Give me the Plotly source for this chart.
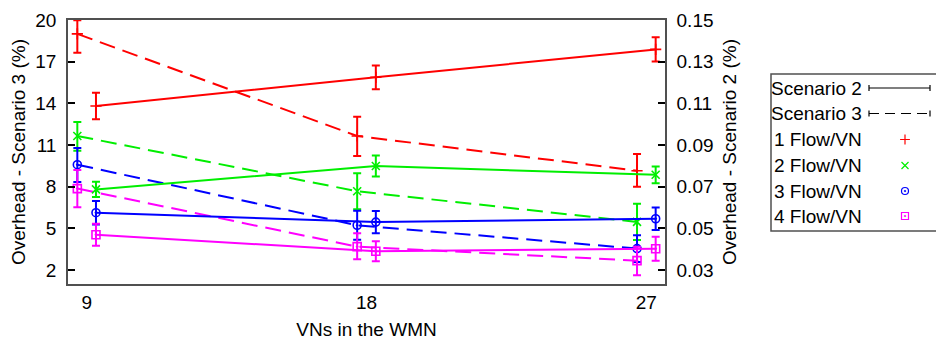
import plotly.graph_objects as go

# ---------------- data ----------------
vns = [9, 18, 27]
flow_labels = ["1 Flow/VN", "2 Flow/VN", "3 Flow/VN", "4 Flow/VN"]

# Scenario 3 (left axis, dashed)
s3_vals = [
    [19.0, 11.65, 9.15],
    [11.65, 7.67, 5.46],
    [9.58, 5.22, 3.54],
    [7.86, 3.68, 2.67],
]
s3_plus = [
    [0.98, 1.39, 1.20],
    [1.01, 1.30, 1.30],
    [1.20, 1.05, 0.96],
    [1.34, 0.96, 1.00],
]
s3_minus = [
    [1.35, 1.44, 1.15],
    [1.06, 1.30, 1.30],
    [1.24, 1.05, 0.96],
    [1.35, 0.91, 1.05],
]

# Scenario 2 (right axis, solid)
s2_vals = [
    [0.1087, 0.1225, 0.1359],
    [0.0687, 0.0799, 0.0757],
    [0.0575, 0.0530, 0.0546],
    [0.0469, 0.0390, 0.0402],
]
s2_err = [
    [0.0064, 0.0057, 0.0058],
    [0.0037, 0.0050, 0.0040],
    [0.0056, 0.0053, 0.0054],
    [0.0053, 0.0048, 0.0058],
]

left_ticks = [2, 5, 8, 11, 14, 17, 20]
right_ticks = [0.03, 0.05, 0.07, 0.09, 0.11, 0.13, 0.15]

# ---------------- style ----------------
colors = ["#ff0000", "#00ee00", "#0000ff", "#ff00ff"]
symbols = ["cross-thin-open", "x-thin-open", "circle-open-dot", "square-open-dot"]
FONT = "Liberation Sans, Arial, Helvetica, sans-serif"
FS = 19
BORDER = "#505050"

W, H = 936, 340
ML, MT, MB = 68, 20, 56
PW = W - ML
PH = H - MT - MB
PLOT_RIGHT = 665


def px(x):
    return (x - ML) / PW


def py(y):
    return (H - MB - y) / PH


OFF = 0.3

fig = go.Figure()

for i in range(4):
    c = colors[i]
    # Scenario 3 - dashed, left axis
    fig.add_trace(go.Scatter(
        x=[v - OFF for v in vns], y=s3_vals[i], mode="lines+markers",
        line=dict(color=c, width=2, dash="16px,8px"),
        marker=dict(symbol=symbols[i], size=8, color=c, line=dict(color=c, width=1.6)),
        error_y=dict(type="data", array=s3_plus[i], arrayminus=s3_minus[i],
                     color=c, thickness=2, width=4),
        yaxis="y", showlegend=False,
    ))
    # Scenario 2 - solid, right axis
    fig.add_trace(go.Scatter(
        x=[v + OFF for v in vns], y=s2_vals[i], mode="lines+markers",
        line=dict(color=c, width=2),
        marker=dict(symbol=symbols[i], size=8, color=c, line=dict(color=c, width=1.6)),
        error_y=dict(type="data", array=s2_err[i], color=c, thickness=2, width=4),
        yaxis="y2", showlegend=False,
    ))

# ---------------- custom gnuplot-like key ----------------
key_left, key_top, key_bottom = 771, 74, 231
row_y = [88, 113.5, 139.5, 165.5, 191, 216]
text_right = 864
samp_x0, samp_x1, mark_x = 869, 930, 905

shapes = [
    dict(type="rect", xref="paper", yref="paper",
         x0=px(key_left), x1=px(W + 5), y0=py(key_bottom), y1=py(key_top),
         line=dict(color=BORDER, width=1.5), fillcolor="rgba(0,0,0,0)"),
]
annotations = []
key_texts = ["Scenario 2", "Scenario 3"] + flow_labels
for t, yy in zip(key_texts, row_y):
    annotations.append(dict(text=t, x=px(text_right), y=py(yy), xref="paper", yref="paper",
                            xanchor="right", yanchor="middle", showarrow=False,
                            font=dict(family=FONT, size=FS, color="black")))

for k, dash in enumerate(["solid", "10px,6px"]):
    yy = row_y[k]
    shapes.append(dict(type="line", xref="paper", yref="paper",
                       x0=px(samp_x0), x1=px(samp_x1), y0=py(yy), y1=py(yy),
                       line=dict(color="black", width=1.2, dash=dash)))
    for xx in (samp_x0, samp_x1):
        shapes.append(dict(type="line", xref="paper", yref="paper",
                           x0=px(xx), x1=px(xx), y0=py(yy - 3), y1=py(yy + 3),
                           line=dict(color="black", width=1.2)))

# legend markers on a hidden axis pair covering only the key box
for i in range(4):
    fig.add_trace(go.Scatter(
        x=[mark_x], y=[row_y[2 + i]], mode="markers",
        marker=dict(symbol=symbols[i], size=7, color=colors[i],
                    line=dict(color=colors[i], width=1.2)),
        xaxis="x3", yaxis="y3", showlegend=False, hoverinfo="skip",
        cliponaxis=False,
    ))

axis_font = dict(family=FONT, size=FS, color="black")

fig.update_layout(
    width=W, height=H,
    margin=dict(l=ML, r=0, t=MT, b=MB),
    paper_bgcolor="white", plot_bgcolor="rgba(0,0,0,0)",
    font=axis_font,
    showlegend=False,
    shapes=shapes,
    annotations=annotations,
    xaxis=dict(
        domain=[0, px(PLOT_RIGHT)], range=[8.4, 27.6], automargin=False,
        tickvals=vns, ticktext=[str(v) for v in vns], ticks="", ticklen=0,
        showgrid=False, zeroline=False,
        showline=True, mirror=True, linecolor=BORDER, linewidth=1.5,
        tickfont=axis_font, ticklabelstandoff=0,
        title=dict(text="VNs in the WMN", font=axis_font, standoff=20),
    ),
    yaxis=dict(
        range=[0.99, 20], tickvals=left_ticks, ticktext=[str(v) for v in left_ticks],
        automargin=False,
        ticks="inside", ticklen=7, tickwidth=1.5, tickcolor="black",
        showgrid=False, zeroline=False,
        showline=True, linecolor=BORDER, linewidth=1.5,
        tickfont=axis_font, ticklabelstandoff=6,
        title=dict(text="Overhead - Scenario 3 (%)", font=axis_font, standoff=5),
    ),
    yaxis2=dict(
        overlaying="y", side="right", anchor="x", automargin=False,
        range=[0.02328, 0.15], tickvals=right_ticks,
        ticktext=[f"{v:.2f}" for v in right_ticks],
        ticks="inside", ticklen=7, tickwidth=1.5, tickcolor="black",
        showgrid=False, zeroline=False,
        showline=True, linecolor=BORDER, linewidth=1.5,
        tickfont=axis_font, ticklabelstandoff=6,
        title=dict(text="Overhead - Scenario 2 (%)", font=axis_font, standoff=10),
    ),
    xaxis3=dict(domain=[px(key_left + 2), 1], range=[key_left + 2, W],
                visible=False, anchor="y3", fixedrange=True),
    yaxis3=dict(domain=[py(key_bottom - 2), py(key_top + 2)],
                range=[key_bottom - 2, key_top + 2],
                visible=False, anchor="x3", fixedrange=True),
)

fig.write_html("out.html")
